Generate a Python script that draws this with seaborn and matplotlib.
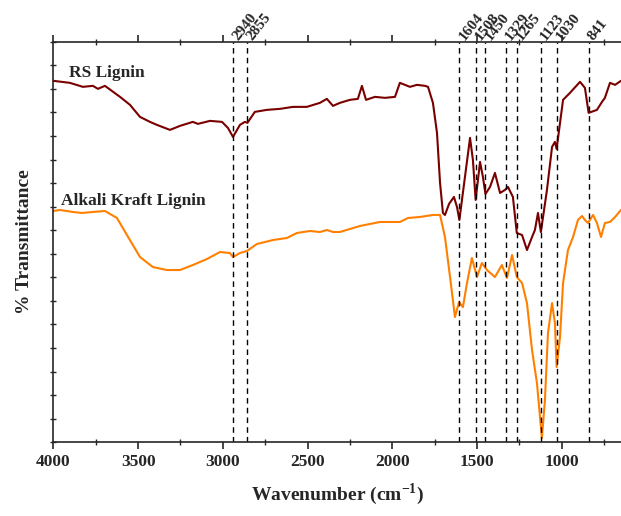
import pandas as pd
import matplotlib.pyplot as plt
import seaborn as sns
import numpy as np
from matplotlib.ticker import MultipleLocator

# FTIR spektra - RS lignin vs alkali kraft lignin

#_________________________________DATA________________________________________

rs_wn = [4000, 3903, 3826, 3767, 3737, 3696, 3607, 3548, 3489, 3430, 3389, 3312, 3253, 3177,
         3147, 3076, 3005, 2970, 2940, 2899, 2870, 2855, 2811, 2740, 2663, 2586, 2504, 2427,
         2386, 2350, 2309, 2250, 2203, 2179, 2155, 2102, 2043, 1984, 1955, 1896, 1854, 1807,
         1789, 1760, 1736, 1718, 1701, 1689, 1665, 1636, 1618, 1604, 1571, 1541, 1524, 1508,
         1482, 1465, 1450, 1423, 1394, 1364, 1335, 1317, 1288, 1265, 1234, 1205, 1175, 1158,
         1140, 1123, 1087, 1057, 1040, 1030, 992, 951, 892, 863, 841, 792, 762, 745, 715, 685, 650]
rs_t = [361, 359, 355, 356, 353, 356, 345, 337, 325, 320, 317, 312, 316, 320,
        318, 321, 320, 314, 305, 317, 320, 319, 330, 332, 333, 335, 335, 339,
        343, 336, 339, 342, 343, 356, 342, 345, 344, 345, 359, 355, 357, 356,
        355, 339, 309, 259, 229, 227, 238, 245, 235, 222, 265, 304, 282, 242,
        280, 265, 248, 255, 269, 249, 252, 255, 245, 209, 207, 192, 205, 212,
        229, 210, 252, 295, 300, 293, 342, 349, 360, 354, 329, 332, 340, 344, 359, 357, 361]

ak_wn = [4000, 3962, 3885, 3832, 3767, 3696, 3625, 3566, 3489, 3413, 3330, 3253, 3177, 3094,
         3017, 2958, 2940, 2899, 2858, 2799, 2704, 2622, 2563, 2486, 2427, 2386, 2350, 2309,
         2191, 2073, 1955, 1907, 1837, 1760, 1718, 1689, 1659, 1630, 1606, 1583, 1559, 1530,
         1500, 1471, 1441, 1394, 1353, 1323, 1293, 1265, 1234, 1205, 1175, 1146, 1128, 1117,
         1099, 1081, 1057, 1040, 1030, 1010, 992, 963, 933, 904, 880, 863, 845, 815, 792, 768,
         745, 715, 685, 650]
ak_t = [231, 232, 230, 229, 230, 231, 224, 207, 185, 175, 172, 172, 177, 183,
        190, 189, 185, 189, 191, 198, 202, 204, 209, 211, 210, 212, 210, 210,
        216, 220, 220, 224, 225, 227, 227, 205, 165, 125, 140, 135, 159, 184,
        165, 179, 172, 165, 177, 164, 187, 165, 159, 139, 92, 59, 25, 4,
        42, 109, 139, 119, 75, 105, 159, 192, 205, 222, 226, 222, 219, 227, 219, 205,
        219, 220, 225, 232]

peaks = [2940, 2855, 1604, 1508, 1450, 1329, 1265, 1123, 1030, 841]

df_rs = pd.DataFrame({'wn': rs_wn, 'T': rs_t, 'prov': 'RS Lignin'})
df_ak = pd.DataFrame({'wn': ak_wn, 'T': ak_t, 'prov': 'Alkali Kraft Lignin'})
data = pd.concat([df_rs, df_ak], ignore_index=True)

#_________________________________GRAF________________________________________

sns.set_style('ticks')
plt.rcParams['font.family'] = ['Liberation Serif', 'DejaVu Serif']
plt.rcParams['font.weight'] = 'bold'
plt.rcParams['axes.labelweight'] = 'bold'
plt.rcParams['mathtext.fontset'] = 'custom'
plt.rcParams['mathtext.rm'] = 'Liberation Serif:bold'
plt.rcParams['mathtext.bf'] = 'Liberation Serif:bold'

fig = plt.figure(figsize=(6.21, 5.16), dpi=100)
ax = fig.add_axes([0.086, 0.143, 0.914, 0.776])

sns.lineplot(data=data, x='wn', y='T', hue='prov', palette={'RS Lignin': '#7a0000', 'Alkali Kraft Lignin': '#ff8000'},
             linewidth=1.5, legend=False, ax=ax, sort=False, estimator=None)

for p in peaks:
    ax.axvline(p, color='black', linestyle=(0, (4, 3)), linewidth=1)
    ax.text(p - 45, 399, str(p), rotation=52, rotation_mode='anchor', ha='left', va='bottom',
            fontsize=11, fontweight='bold')

ax.text(3910, 369, 'RS Lignin', fontsize=12.5, fontweight='bold', va='center')
ax.text(3955, 241, 'Alkali Kraft Lignin', fontsize=12.5, fontweight='bold', va='center')

ax.set_xlim(4000, 650)
ax.set_ylim(0, 400)
ax.xaxis.set_major_locator(MultipleLocator(500))
ax.xaxis.set_minor_locator(MultipleLocator(250))
ax.yaxis.set_major_locator(MultipleLocator(400 / 17))
ax.set_yticklabels([])
ax.tick_params(axis='x', which='major', direction='out', length=5, width=1.2, labelsize=12.5, top=True)
ax.tick_params(axis='x', which='minor', direction='inout', length=4, width=1, top=True)
ax.tick_params(axis='y', direction='inout', length=4, width=1)
for lbl in ax.get_xticklabels():
    lbl.set_fontweight('bold')
ax.spines['right'].set_visible(False)
for s in ['left', 'bottom', 'top']:
    ax.spines[s].set_linewidth(1.2)

ax.set_xlabel('Wavenumber (cm$^{\\mathbf{-1}}$)', fontsize=14, fontweight='bold', labelpad=8)
ax.set_ylabel('% Transmittance', fontsize=14, fontweight='bold', labelpad=9)

plt.savefig('out.png', dpi=100)
